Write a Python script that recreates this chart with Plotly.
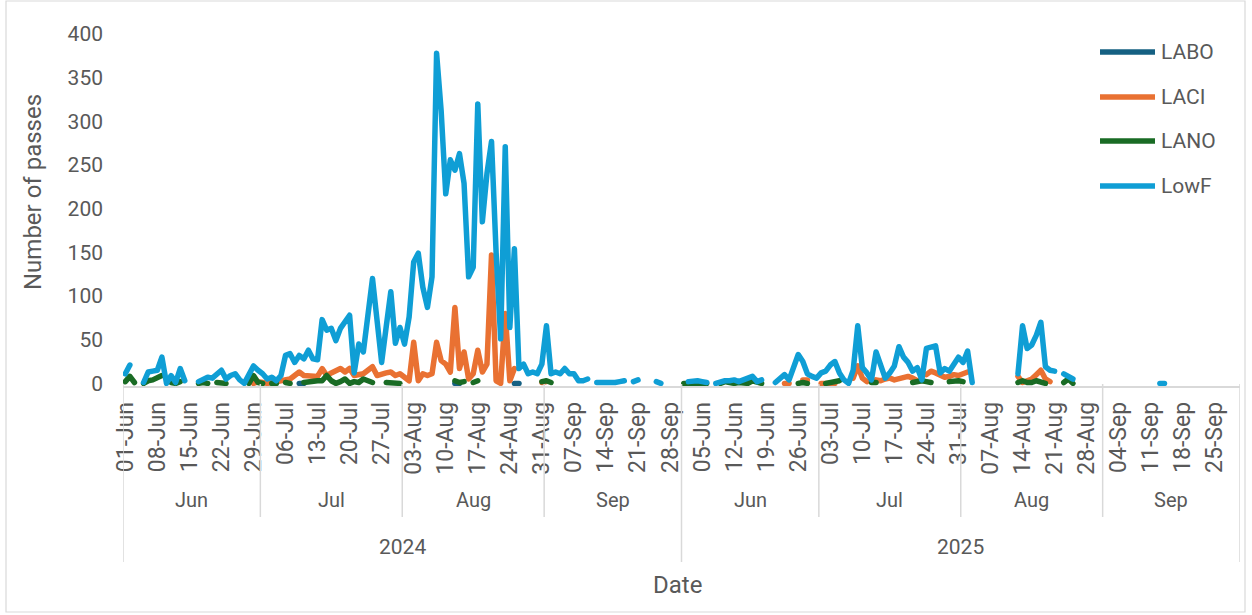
import plotly.graph_objects as go

N = None

# ---------------- categories / labels ----------------
tick_labels = ["01-Jun", "08-Jun", "15-Jun", "22-Jun", "29-Jun", "06-Jul", "13-Jul", "20-Jul",
               "27-Jul", "03-Aug", "10-Aug", "17-Aug", "24-Aug", "31-Aug", "07-Sep", "14-Sep",
               "21-Sep", "28-Sep", "05-Jun", "12-Jun", "19-Jun", "26-Jun", "03-Jul", "10-Jul",
               "17-Jul", "24-Jul", "31-Jul", "07-Aug", "14-Aug", "21-Aug", "28-Aug", "04-Sep",
               "11-Sep", "18-Sep", "25-Sep"]
months = ["Jun", "Jul", "Aug", "Sep"]
month_days = [30, 31, 31, 30]
years = ["2024", "2025"]

# ---------------- 2024 series (daily, Jun-Sep) ----------------
lowf_2024_jun = [11, 21, N, N, 1, 13, 14, 15, 30, 0, 9, 1, 17, 3, N, N, 2, 5, 7, 6,
                 10, 15, 5, 9, 11, 4, 0, 11, 20, 15]
lowf_2024_jul = [11, 5, 7, 3, 9, 32, 34, 24, 32, 28, 38, 28, 27, 73, 61, 63, 49, 63, 70, 78,
                 12, 45, 36, 78, 120, 72, 24, 65, 105, 46, 64]
lowf_2024_aug = [45, 76, 139, 149, 110, 87, 122, 378, 312, 217, 256, 244, 263, 229, 122, 133,
                 320, 185, 240, 277, 150, 51, 271, 64, 154, 17, 22, 11, 13, 11, 22]
lowf_2024_sep = [66, 11, 13, 11, 17, 11, 11, 3, 3, 5, N, 1, 1, 0, 1, 1, 2, 3, N, 2,
                 4, N, N, N, 2, 0, N, N, N, N]

laci_2024_jun = [N] * 28 + [0, 2]
laci_2024_jul = [1, 0, 1, 2, 3, 4, 5, 9, 13, 9, 9, 8, 8, 17, 9, 12, 15, 17, 13, 17,
                 9, 10, 11, 15, 19, 9, 11, 12, 13, 9, 11]
laci_2024_aug = [7, 3, 47, 3, 11, 9, 11, 47, 26, 22, 13, 87, 17, 36, 5, 11, 38, 13, 22, 147,
                 3, 0, 80, 3, 17, N, N, N, N, N, 1]
laci_2024_sep = [2] + [N] * 29

lano_2024_jun = [2, 8, 1, N, 0, 3, 4, 6, 9, N, 1, 0, 2, N, N, N, 0, 1, 0, N,
                 1, 0, 0, N, N, N, N, 0, 9, 1]
lano_2024_jul = [0, N, 0, 0, N, 1, 0, N, N, 1, 2, 2, 3, 3, 9, 3, 0, 2, 5, 0,
                 2, 1, 5, 3, 1, N, N, 1, 1, 1, 0]
lano_2024_aug = [N] * 11 + [3, 1, 2, N, 1, 3] + [N] * 13 + [2]
lano_2024_sep = [3, 1] + [N] * 28

labo_2024_jun = [N] * 30
labo_2024_jul = [N] * 8 + [0, 0] + [N] * 21
labo_2024_aug = [N] * 11 + [0, 0] + [N] * 11 + [0, 0] + [N] * 5
labo_2024_sep = [N] * 30

# ---------------- 2025 series (daily, Jun-Sep) ----------------
lowf_2025_jun = [N, 2, 3, 3, 2, 1, N, 0, 2, 3, 3, 4, 2, 4, 6, 8, 2, 4, N, N,
                 1, 6, 10, 4, 18, 33, 25, 11, 8, 6]
lowf_2025_jul = [12, 14, 21, 25, 12, 4, 0, 15, 66, 18, 12, 4, 36, 22, 6, 12, 20, 42, 30, 24,
                 14, 18, 4, 40, 41, 43, 12, 17, 14, 22, 30]
lowf_2025_aug = [24, 37, 1] + [N] * 9 + [11, 66, 40, 44, 55, 70, 19, 15, 14, N, 11, 8, 5] + [N] * 6
lowf_2025_sep = [N] * 12 + [0, 0] + [N] * 16

laci_2025_jun = [N] * 22 + [0, 0, N, N, 4, 4, N, N]
laci_2025_jul = [0, 0, 1, 0, N, N, N, 6, 20, 6, 2, N, 4, 3, 5, 6, 4, 5, 7, 8,
                 6, 3, N, 10, 14, 12, 9, 7, 8, 10, 9]
laci_2025_aug = [11, 13] + [N] * 10 + [8, 1, 3, 5, 10, 15, 5, 2] + [N] * 11
laci_2025_sep = [N] * 30

lano_2025_jun = [0, 0, 1, 0, 0, 0, N, N, 0, 2, 1, 0, 1, 0, 0, 3, 1, 0, N, N,
                 N, N, N, N, N, 0, 1, 0, N, N]
lano_2025_jul = [N, 0, 1, 2, 3, N, N, N, N, N, N, 1, 1, N, N, N, N, N, N, N,
                 1, 2, 3, 2, 1, N, N, N, 2, 3, 3]
lano_2025_aug = [2] + [N] * 11 + [1, 3, 1, 1, 3, 2, 0] + [N] * 3 + [1, 5, 0] + [N] * 6
lano_2025_sep = [N] * 30

labo_2025_jun = [N] * 30
labo_2025_jul = [N] * 31
labo_2025_aug = [N] * 31
labo_2025_sep = [N] * 30

labo = labo_2024_jun + labo_2024_jul + labo_2024_aug + labo_2024_sep + \
       labo_2025_jun + labo_2025_jul + labo_2025_aug + labo_2025_sep
laci = laci_2024_jun + laci_2024_jul + laci_2024_aug + laci_2024_sep + \
       laci_2025_jun + laci_2025_jul + laci_2025_aug + laci_2025_sep
lano = lano_2024_jun + lano_2024_jul + lano_2024_aug + lano_2024_sep + \
       lano_2025_jun + lano_2025_jul + lano_2025_aug + lano_2025_sep
lowf = lowf_2024_jun + lowf_2024_jul + lowf_2024_aug + lowf_2024_sep + \
       lowf_2025_jun + lowf_2025_jul + lowf_2025_aug + lowf_2025_sep

series_names = ["LABO", "LACI", "LANO", "LowF"]
series_values = [labo, laci, lano, lowf]
series_colors = ["#156082", "#E97132", "#196B24", "#0F9ED5"]

n_cat = len(lowf)
x_idx = list(range(n_cat))

# ---------------- geometry ----------------
W_FIG, H_FIG = 1252, 615
L, R, T, B = 123, 12, 34, 229
PW = W_FIG - L - R
PH = H_FIG - T - B
TXT = "#595959"
GRID = "#D9D9D9"
FONT = "Roboto, Arial, sans-serif"


def px(xp):
    return (xp - L) / PW


def py(yp):
    return (T + PH - yp) / PH


fig = go.Figure()
for name, vals, col in zip(series_names, series_values, series_colors):
    fig.add_trace(go.Scatter(x=x_idx, y=vals, mode="lines", name=name,
                             line=dict(color=col, width=5.5), connectgaps=False,
                             showlegend=False, hoverinfo="x+y+name"))

shapes = []
annotations = []


def label(x, y, text, size, xref="x", **kw):
    d = dict(x=x, y=y, xref=xref, yref="paper", text=text, showarrow=False,
             xanchor="center", yanchor="middle",
             font=dict(size=size, color=TXT, family=FONT))
    d.update(kw)
    annotations.append(d)


# month and year dividers / labels
pos = -0.5
for yr in years:
    start = pos
    shapes.append(dict(type="line", xref="x", yref="paper", x0=start, x1=start,
                       y0=py(384), y1=py(562), line=dict(color=GRID, width=1.5)))
    for m, md in zip(months, month_days):
        label(pos + md / 2, py(500), m, 20)
        pos += md
        if m != months[-1]:
            shapes.append(dict(type="line", xref="x", yref="paper", x0=pos, x1=pos,
                               y0=py(384), y1=py(517), line=dict(color=GRID, width=1.5)))
    label((start + pos) / 2, py(547), yr, 21)
shapes.append(dict(type="line", xref="x", yref="paper", x0=pos, x1=pos,
                   y0=py(384), y1=py(562), line=dict(color=GRID, width=1.5)))

# axis titles
label(px(677), py(585), "Date", 24, xref="paper")
label(px(33), py(192), "Number of passes", 24, xref="paper", textangle=-90)

# legend (drawn)
leg_y = [52, 97, 141, 186]
for name, col, ly in zip(series_names, series_colors, leg_y):
    shapes.append(dict(type="line", xref="paper", yref="paper", x0=px(1100), x1=px(1155),
                       y0=py(ly), y1=py(ly), line=dict(color=col, width=5.5)))
    label(px(1159), py(ly), name, 21, xref="paper", xanchor="left")

# chart border
shapes.append(dict(type="rect", xref="paper", yref="paper", x0=px(6), x1=px(1245),
                   y0=py(612), y1=py(1), line=dict(color=GRID, width=1.2)))

fig.update_layout(
    width=W_FIG, height=H_FIG,
    margin=dict(l=L, r=R, t=T, b=B, pad=0),
    paper_bgcolor="white", plot_bgcolor="white",
    font=dict(family=FONT, color=TXT, size=19),
    shapes=shapes, annotations=annotations,
    showlegend=False,
    xaxis=dict(range=[-0.5, n_cat - 0.5], tickmode="array",
               tickvals=list(range(0, n_cat, 7)), ticktext=tick_labels,
               tickangle=-90, ticks="", showgrid=False, zeroline=False,
               showline=True, linecolor=GRID, linewidth=1.5,
               ticklabelstandoff=5, tickfont=dict(size=23, color=TXT, family=FONT)),
    yaxis=dict(range=[-3, 400], tickvals=list(range(0, 401, 50)), ticks="",
               showgrid=False, zeroline=False, showline=False,
               ticklabelstandoff=19, tickfont=dict(size=21, color=TXT, family=FONT)),
)

post = """
document.body.style.margin='0';
var s=document.createElement('style');
s.innerHTML='.scatterlayer .js-line{stroke-linecap:round !important;stroke-linejoin:round !important;}';
document.head.appendChild(s);
"""
fig.write_html("out.html", post_script=post, config={"displayModeBar": False})
